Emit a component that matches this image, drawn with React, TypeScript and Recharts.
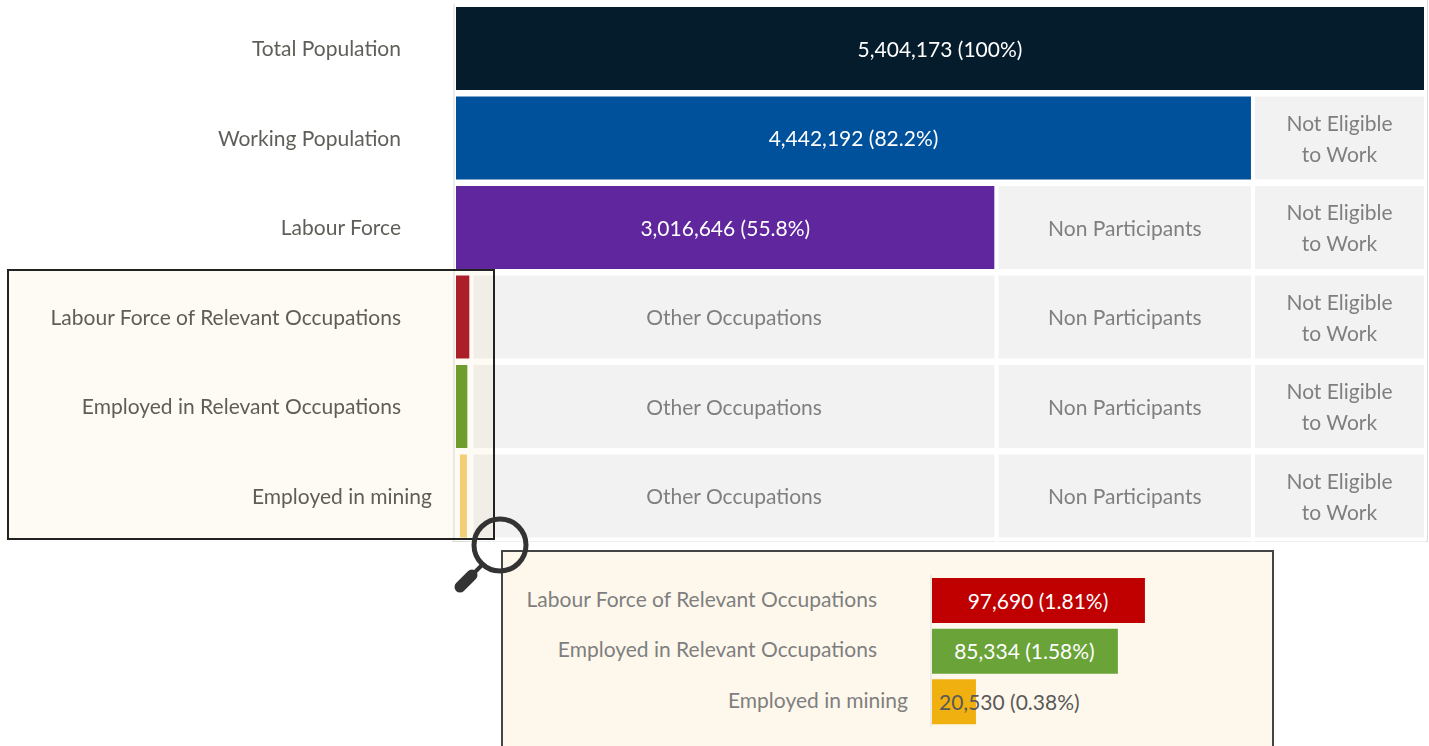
import React from "react";
import { BarChart, Bar, XAxis, YAxis, LabelList, Rectangle } from "recharts";

// Main funnel
const categories = ["Total Population","Working Population","Labour Force","Labour Force of Relevant Occupations","Employed in Relevant Occupations","Employed in mining"];
const lead = [0,0,0,0,0,33000];
const primary = [5404173,4442192,3016646,97690,85334,20530];
const spacer = [0,0,0,0,12356,44160];
const otherOccupations = [0,0,0,2918956,2918956,2918956];
const nonParticipants = [0,0,1425546,1425546,1425546,1425546];
const notEligible = [0,961981,961981,961981,961981,961981];
const primaryLabels = ["5,404,173 (100%)","4,442,192 (82.2%)","3,016,646 (55.8%)","","",""];
const TOTAL = 5404173;

// Zoomed detail
const zoomCategories = ["Labour Force of Relevant Occupations","Employed in Relevant Occupations","Employed in mining"];
const zoomValues = [97690,85334,20530];
const zoomLabels = ["97,690 (1.81%)","85,334 (1.58%)","20,530 (0.38%)"];

const primaryColors = ["#051c2c","#00519b","#60269e","#ae1e2a","#6fa030","#f6d27c"];
const zoomColors = ["#c00000","#6aa338","#f0b010"];
const FONT = "Lato, sans-serif";
const FS = 21;
const GREY = "#7f7f7f";

const mainData = categories.map((c,i)=>({
  c, lead:lead[i], primary:primary[i], spacer:spacer[i], other:otherOccupations[i],
  non:nonParticipants[i], ne:notEligible[i], label:primaryLabels[i],
  otherLabel: otherOccupations[i] ? "Other Occupations" : "",
  nonLabel: nonParticipants[i] ? "Non Participants" : "",
  neLabel: notEligible[i] ? "Not Eligible|to Work" : "",
}));
const zoomData = zoomCategories.map((c,i)=>({c, v:zoomValues[i], label:zoomLabels[i]}));

const mainTick = (p:any) => (
  <text x={p.x + (p.index===5 ? 31 : 0)} y={p.y+2} textAnchor="end" dominantBaseline="middle"
    fontFamily={FONT} fontSize={FS} fill="#5f5f5a">{p.payload.value}</text>
);
const zoomTick = (p:any) => (
  <text x={p.x + (p.index===2 ? 31 : 0)} y={p.y+1} textAnchor="end" dominantBaseline="middle"
    fontFamily={FONT} fontSize={FS} fill="#7f7f7f">{p.payload.value}</text>
);

const primaryShape = (p:any) => {
  const col = primaryColors[p.index];
  if (p.index===5) return <Rectangle x={p.x} y={p.y+2} width={p.width+3.3} height={p.height-4} fill={col}/>;
  return <Rectangle x={p.x} y={p.y} width={p.width} height={p.height} fill={col} stroke="#fff" strokeWidth={4}/>;
};

const centred = (fill:string) => (p:any) => {
  if (!p.value) return null;
  const cx = p.x + p.width/2, cy = p.y + p.height/2;
  const lines = String(p.value).split("|");
  return (
    <text textAnchor="middle" fontFamily={FONT} fontSize={FS} fill={fill}>
      {lines.map((l,i)=>(
        <tspan key={i} x={cx} y={cy + 8 + (i - (lines.length-1)/2)*31}>{l}</tspan>
      ))}
    </text>
  );
};
const zoomLabel = (p:any) => {
  const small = p.index===2;
  return (
    <text x={small ? p.x+8 : p.x+p.width/2} y={p.y+p.height/2+8} textAnchor={small?"start":"middle"}
      fontFamily={FONT} fontSize={FS} fill={small?"#595959":"#ffffff"}>{p.value}</text>
  );
};

export default function App() {
  const abs:any = {position:"absolute"};
  return (
    <div style={{position:"absolute",left:0,top:0,width:1429,height:746,overflow:"hidden",background:"#fff"}}>
      <div style={{filter:"blur(0.4px)"}}>
      <div style={{...abs,left:452,top:0,width:975,height:541,borderRight:"1px solid #dcdcdc",borderBottom:"1px solid #dcdcdc"}}/>
      <div style={{...abs,left:0,top:0}}>
        <BarChart width={1429} height={546} data={mainData} layout="vertical" barSize={87}
          margin={{top:4,right:3,bottom:5,left:0}} stackOffset="none">
          <XAxis type="number" hide domain={[0,TOTAL]} allowDataOverflow/>
          <YAxis type="category" dataKey="c" width={454} tickLine={false} tickSize={0} tickMargin={53}
            axisLine={{stroke:"#d9d9d9"}} tick={mainTick} interval={0}/>
          <Bar dataKey="lead" stackId="s" fill="none" isAnimationActive={false}/>
          <Bar dataKey="primary" stackId="s" shape={primaryShape} isAnimationActive={false}>
            <LabelList dataKey="label" content={centred("#ffffff")}/>
          </Bar>
          <Bar dataKey="spacer" stackId="s" fill="none" isAnimationActive={false}/>
          <Bar dataKey="other" stackId="s" fill="#f2f2f2" stroke="#fff" strokeWidth={4} isAnimationActive={false}>
            <LabelList dataKey="otherLabel" content={centred(GREY)}/>
          </Bar>
          <Bar dataKey="non" stackId="s" fill="#f2f2f2" stroke="#fff" strokeWidth={4} isAnimationActive={false}>
            <LabelList dataKey="nonLabel" content={centred(GREY)}/>
          </Bar>
          <Bar dataKey="ne" stackId="s" fill="#f2f2f2" stroke="#fff" strokeWidth={4} isAnimationActive={false}>
            <LabelList dataKey="neLabel" content={centred(GREY)}/>
          </Bar>
        </BarChart>
      </div>
      <div style={{...abs,left:7,top:269,width:484,height:267,border:"2px solid #222",background:"#fdfbf3",mixBlendMode:"multiply"}}/>
      <div style={{...abs,left:501,top:550,width:769,height:220,border:"2px solid #444",background:"#fef8ec"}}/>
      <div style={{...abs,left:0,top:570}}>
        <BarChart width={1200} height={170} data={zoomData} layout="vertical" barSize={45}
          margin={{top:5,right:50,bottom:13,left:0}}>
          <XAxis type="number" hide domain={[0,100000]} allowDataOverflow/>
          <YAxis type="category" dataKey="c" width={931} tickLine={false} tickSize={0} tickMargin={54}
            axisLine={{stroke:"#dddddd"}} tick={zoomTick} interval={0}/>
          <Bar dataKey="v" isAnimationActive={false}
            shape={(p:any)=><Rectangle x={p.x+1} y={p.y} width={p.width-1} height={p.height} fill={zoomColors[p.index]}/>}>
            <LabelList dataKey="label" content={zoomLabel}/>
          </Bar>
        </BarChart>
      </div>
      <svg width={1429} height={746} style={{...abs,left:0,top:0,pointerEvents:"none"}}>
        <circle cx={500} cy={545} r={26} fill="none" stroke="#333" strokeWidth={5}/>
        <line x1={482} y1={565} x2={470} y2={577} stroke="#333" strokeWidth={4}/>
        <line x1={472} y1={575} x2={460} y2={587} stroke="#333" strokeWidth={11} strokeLinecap="round"/>
      </svg>
      </div>
    </div>
  );
}
